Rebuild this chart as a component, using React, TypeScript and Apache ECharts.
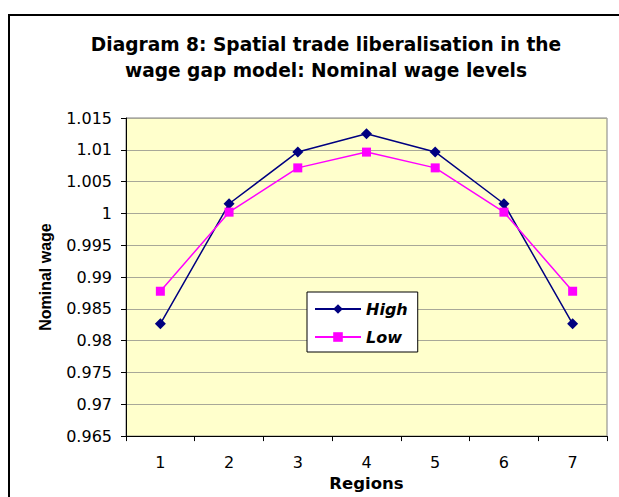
import React, { useEffect, useRef } from "react";
import * as echarts from "echarts";

const categories = ["1", "2", "3", "4", "5", "6", "7"];
const highValues = [0.98265, 1.00152, 1.00967, 1.01254, 1.00967, 1.00152, 0.98265];
const lowValues = [0.98777, 1.0002, 1.00716, 1.00964, 1.00716, 1.0002, 0.98777];
const seriesNames = ["High", "Low"];

export default function App() {
  const ref = useRef<HTMLDivElement>(null);
  useEffect(() => {
    const chart = echarts.init(ref.current!, null, { renderer: "svg" });
    const font = "'DejaVu Sans', sans-serif";
    const font2 = "'Liberation Sans', Arial, sans-serif";
    chart.setOption({
      animation: false,
      backgroundColor: "#ffffff",
      textStyle: { fontFamily: font },
      title: {
        text: "Diagram 8: Spatial trade liberalisation in the\nwage gap model: Nominal wage levels",
        left: 321,
        top: 26,
        textAlign: "center",
        textStyle: { fontSize: 18.6, fontWeight: "bold", color: "#000", lineHeight: 26, fontFamily: font },
      },
      graphic: [
        {
          type: "rect",
          shape: { x: 9, y: 15, width: 640, height: 500 },
          style: { fill: "none", stroke: "#000", lineWidth: 2 },
          silent: true,
        },
      ],
      grid: {
        left: 126,
        right: 12,
        top: 118,
        bottom: 60,
        show: true,
        backgroundColor: "#FFFFCC",
        borderColor: "#808080",
        borderWidth: 1,
      },
      legend: {
        orient: "vertical",
        left: 307,
        top: 292,
        padding: [9, 10, 7, 7],
        itemWidth: 46,
        itemHeight: 12,
        itemGap: 12,
        backgroundColor: "#ffffff",
        borderColor: "#000",
        borderWidth: 1,
        borderRadius: 0,
        data: seriesNames,
        textStyle: { fontSize: 16, fontWeight: "bold", fontStyle: "italic", color: "#000", fontFamily: font },
      },
      xAxis: {
        type: "category",
        data: categories,
        boundaryGap: true,
        name: "Regions",
        nameLocation: "middle",
        nameGap: 33,
        nameTextStyle: { fontSize: 16.5, fontWeight: "bold", color: "#000", fontFamily: font },
        axisLine: { show: true, lineStyle: { color: "#000", width: 1 } },
        axisTick: { show: true, inside: false, length: 5, alignWithLabel: false, lineStyle: { color: "#000" } },
        axisLabel: { fontSize: 16, color: "#000", margin: 18, fontFamily: font },
        splitLine: { show: false },
      },
      yAxis: {
        type: "value",
        min: 0.965,
        max: 1.015,
        interval: 0.005,
        name: "Nominal wage",
        nameLocation: "middle",
        nameGap: 73,
        nameRotate: 90,
        nameTextStyle: { fontSize: 16, fontWeight: "bold", color: "#000", fontFamily: font2 },
        axisLine: { show: true, lineStyle: { color: "#000", width: 1 } },
        axisTick: { show: true, inside: false, length: 5, lineStyle: { color: "#000" } },
        axisLabel: {
          fontSize: 16,
          color: "#000",
          margin: 14,
          fontFamily: font,
          formatter: (v: number) => String(parseFloat(v.toFixed(3))),
        },
        splitLine: { show: true, lineStyle: { color: "#A8A898", width: 1 } },
      },
      series: [
        {
          name: seriesNames[0],
          type: "line",
          data: highValues,
          symbol: "diamond",
          symbolSize: 11,
          itemStyle: { color: "#000080" },
          lineStyle: { color: "#000080", width: 1.5 },
        },
        {
          name: seriesNames[1],
          type: "line",
          data: lowValues,
          symbol: "rect",
          symbolSize: 9,
          itemStyle: { color: "#FF00FF" },
          lineStyle: { color: "#FF00FF", width: 1.5 },
        },
      ],
    });
    return () => chart.dispose();
  }, []);
  return <div ref={ref} style={{ width: 619, height: 497, position: "absolute", left: 0, top: 0 }} />;
}
